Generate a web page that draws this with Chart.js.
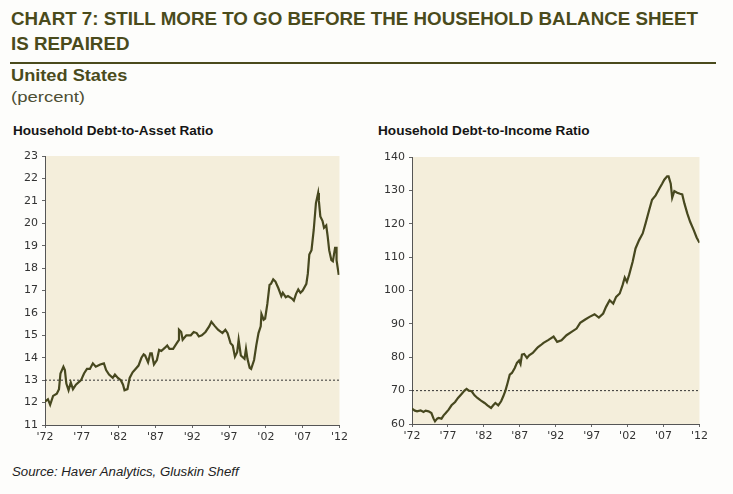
<!DOCTYPE html>
<html>
<head>
<meta charset="utf-8">
<script src="https://cdn.jsdelivr.net/npm/chart.js@4/dist/chart.umd.min.js"></script>
<style>
  html, body { margin:0; padding:0; background:#fdfdfb; }
  body { width:733px; height:494px; position:relative; overflow:hidden; font-family:"Liberation Sans", Arial, sans-serif; }
  .t { position:absolute; white-space:nowrap; display:inline-block; transform-origin:0 0; line-height:normal; }
  .title { font-weight:bold; font-size:19px; color:#4a4b1c; }
  .rule { position:absolute; left:10px; top:62px; width:706px; height:2px; background:#4a4b1c; }
  .sub1 { font-weight:bold; font-size:16px; color:#4a4b1c; }
  .sub2 { font-size:15px; color:#4d4e33; }
  .ct { font-weight:bold; font-size:12px; color:#151515; }
  .src { font-style:italic; font-size:12px; color:#222; }
  .box { position:absolute; }
</style>
</head>
<body>
<div class="t title" id="title1" style="left:11px; top:8px" data-w="687">CHART 7: STILL MORE TO GO BEFORE THE HOUSEHOLD BALANCE SHEET</div>
<div class="t title" id="title2" style="left:11px; top:33px" data-same="title1">IS REPAIRED</div>
<div class="rule"></div>
<div class="t sub1" style="left:11px; top:67px" data-w="116">United States</div>
<div class="t sub2" style="left:11px; top:88px" data-w="74">(percent)</div>
<div class="t ct" style="left:13px; top:124px" data-w="200">Household Debt-to-Asset Ratio</div>
<div class="t ct" style="left:378px; top:124px" data-w="212">Household Debt-to-Income Ratio</div>
<div class="box" style="left:5px; top:145px; width:346px; height:305px;"><canvas id="c1"></canvas></div>
<div class="box" style="left:372px; top:145px; width:339px; height:305px;"><canvas id="c2"></canvas></div>
<div class="t src" style="left:12px; top:465px" data-w="227">Source: Haver Analytics, Gluskin Sheff</div>
<script>
const xTickYears = [1972,1977,1982,1987,1992,1997,2002,2007,2012];
const assetTicks = [11,12,13,14,15,16,17,18,19,20,21,22,23];
const incomeTicks = [60,70,80,90,100,110,120,130,140];
const assetRef = 13;
const incomeRef = 70;

const assetYears = [1972.0,1972.4,1972.7,1973.1,1973.6,1973.9,1974.1,1974.5,1974.7,1974.9,1975.2,1975.5,1975.8,1976.2,1976.9,1977.3,1977.7,1978.1,1978.5,1978.9,1979.5,1980.0,1980.3,1980.7,1981.2,1981.5,1981.9,1982.3,1982.6,1982.8,1983.2,1983.5,1983.9,1984.3,1984.7,1985.1,1985.4,1985.6,1986.0,1986.3,1986.5,1986.8,1987.2,1987.5,1987.8,1988.3,1988.6,1988.9,1989.4,1989.9,1990.2,1990.2,1990.5,1990.7,1991.2,1991.8,1992.2,1992.6,1992.9,1993.3,1993.8,1994.3,1994.6,1995.1,1995.5,1996.1,1996.5,1996.8,1997.2,1997.5,1997.8,1998.1,1998.3,1998.6,1999.1,1999.3,1999.5,1999.8,2000.0,2000.4,2000.7,2001.0,2001.3,2001.4,2001.7,2001.9,2002.2,2002.5,2002.7,2003.0,2003.3,2003.7,2004.1,2004.3,2004.7,2005.0,2005.5,2005.8,2006.1,2006.4,2006.7,2007.0,2007.5,2007.7,2007.9,2008.2,2008.5,2008.8,2009.1,2009.2,2009.4,2009.7,2009.9,2010.2,2010.4,2010.6,2010.9,2011.1,2011.4,2011.6,2011.6,2011.9,2012.0];
const assetValues = [12.04,12.15,11.9,12.3,12.4,12.6,13.3,13.6,13.45,12.85,12.55,12.9,12.6,12.8,13.0,13.3,13.5,13.5,13.75,13.6,13.7,13.75,13.45,13.25,13.1,13.25,13.1,13.0,12.8,12.55,12.6,13.1,13.35,13.5,13.65,14.0,14.15,14.1,13.8,14.2,14.2,13.7,13.9,14.35,14.3,14.45,14.55,14.4,14.4,14.65,14.8,15.25,15.15,14.8,15.0,15.0,15.15,15.1,14.95,15.0,15.15,15.4,15.6,15.4,15.25,15.1,15.25,15.1,14.65,14.55,14.05,14.25,14.8,14.1,13.95,14.4,13.95,13.55,13.5,13.9,14.55,15.1,15.4,15.95,15.7,15.75,16.4,17.25,17.3,17.5,17.4,17.1,16.75,16.9,16.7,16.75,16.65,16.55,16.85,17.05,16.9,17.0,17.3,17.75,18.6,18.8,19.7,20.9,21.35,21.0,20.3,20.1,19.8,19.9,19.4,18.8,18.35,18.3,18.9,18.9,18.35,17.7];

const incomeYears = [1972.0,1972.4,1972.7,1973.2,1973.6,1973.9,1974.3,1974.7,1975.0,1975.2,1975.5,1975.7,1976.1,1976.4,1976.7,1977.1,1977.5,1978.0,1978.4,1978.9,1979.3,1979.6,1979.9,1980.3,1980.7,1981.1,1981.6,1982.1,1982.5,1983.0,1983.3,1983.6,1984.0,1984.4,1984.7,1985.0,1985.3,1985.6,1985.9,1986.3,1986.6,1986.9,1987.1,1987.3,1987.6,1988.0,1988.3,1988.8,1989.1,1989.5,1989.9,1990.3,1991.0,1991.7,1992.2,1992.8,1993.5,1994.2,1994.9,1995.4,1996.1,1996.7,1997.4,1998.0,1998.6,1999.0,1999.5,2000.0,2000.4,2000.9,2001.3,2001.6,2001.9,2002.2,2002.7,2003.1,2003.6,2004.1,2004.5,2005.0,2005.4,2005.9,2006.4,2006.8,2007.1,2007.5,2007.7,2008.0,2008.2,2008.5,2008.9,2009.3,2009.6,2009.9,2010.3,2010.7,2011.2,2011.6,2012.0];
const incomeValues = [64.6,64.0,63.8,64.1,63.6,64.0,63.8,63.3,61.6,60.8,61.6,61.8,61.6,62.6,63.3,64.3,65.6,66.6,67.8,69.0,70.0,70.5,70.0,69.8,68.6,67.8,67.0,66.3,65.6,64.8,65.6,66.3,65.6,66.8,68.3,70.0,72.3,74.8,75.3,76.8,78.3,79.0,78.0,80.8,81.0,79.8,80.6,81.3,82.0,83.0,83.6,84.3,85.2,86.2,84.6,85.1,86.6,87.6,88.6,90.3,91.3,92.1,92.9,91.9,93.1,95.1,97.1,96.1,98.1,99.1,101.6,103.9,102.6,104.6,108.6,112.6,115.1,117.1,120.1,124.1,127.2,128.5,130.5,132.0,133.2,134.2,134.2,132.0,127.8,129.8,129.3,129.0,128.8,126.1,123.1,120.6,118.1,115.9,114.3];

const lineColor = '#47481f';
const bgColor = '#f4eedb';
const tickFont = { family: 'DejaVu Sans', size: 11 };

// fit text widths to the reference layout
const scales = {};
document.querySelectorAll('[data-w]').forEach(el => {
  const s = parseFloat(el.dataset.w) / el.offsetWidth;
  scales[el.id] = s;
  el.style.transform = 'scaleX(' + s + ')';
});
document.querySelectorAll('[data-same]').forEach(el => {
  el.style.transform = 'scaleX(' + scales[el.dataset.same] + ')';
});

const bgPlugin = {
  id: 'plotbg',
  beforeDraw(chart) {
    const a = chart.chartArea, ctx = chart.ctx;
    ctx.save(); ctx.fillStyle = bgColor;
    ctx.fillRect(a.left, a.top, a.right - a.left, a.bottom - a.top);
    ctx.restore();
  }
};

function makeChart(id, years, values, yTicks, ref, padTop, padBottom) {
  const pts = years.map((x, i) => ({ x, y: values[i] }));
  const refPts = [{ x: xTickYears[0], y: ref }, { x: xTickYears[xTickYears.length - 1], y: ref }];
  return new Chart(document.getElementById(id), {
    type: 'line',
    data: { datasets: [
      { data: pts, borderColor: lineColor, borderWidth: 2.2, pointRadius: 0, tension: 0, order: 1 },
      { data: refPts, borderColor: '#333', borderWidth: 1, borderDash: [2, 2], pointRadius: 0, order: 2 }
    ] },
    options: {
      responsive: true, maintainAspectRatio: false, animation: false,
      layout: { padding: { top: padTop, right: 8, bottom: padBottom, left: 0 } },
      plugins: { legend: { display: false }, tooltip: { enabled: false } },
      scales: {
        x: {
          type: 'linear', min: xTickYears[0], max: xTickYears[xTickYears.length - 1],
          afterBuildTicks(s) { s.ticks = xTickYears.map(v => ({ value: v })); },
          afterFit(s) { s.height = 22; },
          ticks: { font: tickFont, color: '#333', padding: 3, maxRotation: 0, autoSkip: false,
                   callback: v => "'" + String(v).slice(2) },
          grid: { drawOnChartArea: false, drawTicks: true, tickLength: 3, color: '#666' },
          border: { color: '#555', width: 1 }
        },
        y: {
          min: yTicks[0], max: yTicks[yTicks.length - 1],
          afterBuildTicks(s) { s.ticks = yTicks.map(v => ({ value: v })); },
          afterFit(s) { s.width = 40; },
          ticks: { font: tickFont, color: '#333', padding: 4, autoSkip: false },
          grid: { drawOnChartArea: false, drawTicks: true, tickLength: 3, color: '#666' },
          border: { color: '#555', width: 1 }
        }
      }
    },
    plugins: [bgPlugin]
  });
}

makeChart('c1', assetYears, assetValues, assetTicks, assetRef, 11, 3);
makeChart('c2', incomeYears, incomeValues, incomeTicks, incomeRef, 12, 4);
</script>
</body>
</html>
